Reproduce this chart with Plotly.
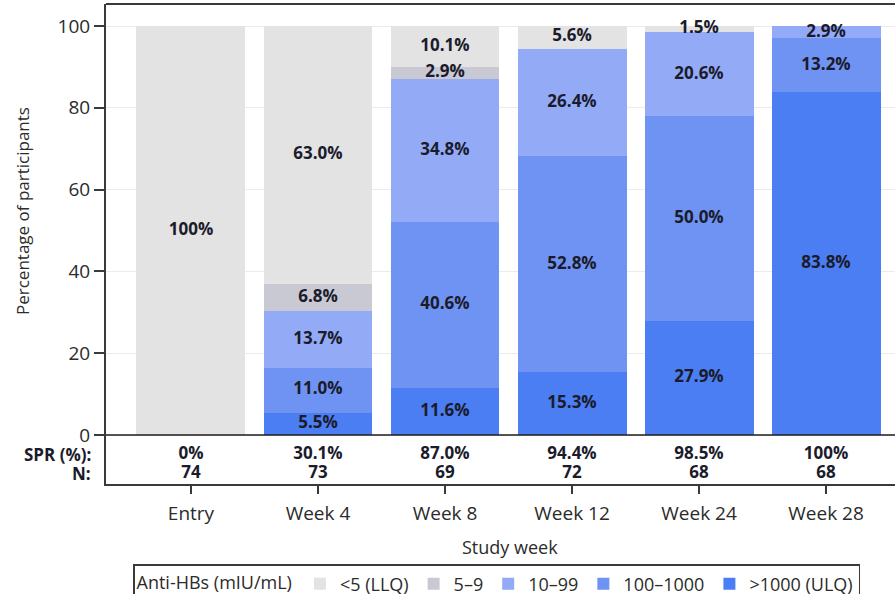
import plotly.graph_objects as go

# Study visits and antibody-level categories
weeks = ["Entry", "Week 4", "Week 8", "Week 12", "Week 24", "Week 28"]

# Percentage of participants in each anti-HBs category (bottom of stack first)
pct_ulq = [0, 5.5, 11.6, 15.3, 27.9, 83.8]        # >1000 (ULQ)
pct_100_1000 = [0, 11.0, 40.6, 52.8, 50.0, 13.2]  # 100-1000
pct_10_99 = [0, 13.7, 34.8, 26.4, 20.6, 2.9]      # 10-99
pct_5_9 = [0, 6.8, 2.9, 0, 0, 0]                  # 5-9
pct_llq = [100, 63.0, 10.1, 5.6, 1.5, 0]          # <5 (LLQ)

# Seroprotection rate and number of participants per visit
spr = [0, 30.1, 87.0, 94.4, 98.5, 100]
n_participants = [74, 73, 69, 72, 68, 68]

series = [
    (">1000 (ULQ)", pct_ulq, "#4b7ef3"),
    ("100–1000", pct_100_1000, "#6f93f2"),
    ("10–99", pct_10_99, "#93abf7"),
    ("5–9", pct_5_9, "#c9c9d3"),
    ("<5 (LLQ)", pct_llq, "#e3e3e3"),
]

FONT = "Open Sans"
TXT = "#2b2b2b"
LBL = "#1b1b2b"
LBL_SIZE = 17


def fmt_pct(v):
    return "100%" if v == 100 else ("0%" if v == 0 else f"{v:.1f}%")


fig = go.Figure()

base = [0.0] * len(weeks)
lab_x, lab_y, lab_t = [], [], []
for name, vals, color in series:
    fig.add_trace(go.Bar(
        x=weeks, y=vals, name=name, marker=dict(color=color, line=dict(width=0)),
        width=0.858, hoverinfo="skip",
    ))
    for i, v in enumerate(vals):
        if v > 0:
            lab_x.append(weeks[i])
            lab_y.append(base[i] + v / 2)
            lab_t.append(fmt_pct(v))
        base[i] += v

# Segment value labels
fig.add_trace(go.Scatter(
    x=lab_x, y=lab_y, text=lab_t, mode="text", showlegend=False,
    textfont=dict(family=FONT, size=LBL_SIZE, color=LBL, weight="bold"),
    hoverinfo="skip",
))

# Inset table rows: SPR and N
ROW_SPR, ROW_N = -4.8, -9.5
fig.add_trace(go.Scatter(
    x=weeks, y=[ROW_SPR] * len(weeks), text=[fmt_pct(v) for v in spr],
    mode="text", showlegend=False, hoverinfo="skip",
    textfont=dict(family=FONT, size=LBL_SIZE, color=LBL, weight="bold"),
))
fig.add_trace(go.Scatter(
    x=weeks, y=[ROW_N] * len(weeks), text=[str(v) for v in n_participants],
    mode="text", showlegend=False, hoverinfo="skip",
    textfont=dict(family=FONT, size=LBL_SIZE, color=LBL, weight="bold"),
))

W, H = 895, 594
ML, MR, MT, MB = 106, 0, 4, 110
pw, ph = W - ML - MR, H - MT - MB


def px_x(p):
    return (p - ML) / pw


def px_y(p):
    return (H - MB - p) / ph


annotations = [
    dict(text="<b>SPR (%):</b>", x=px_x(93), y=ROW_SPR, xref="paper", yref="y",
         xanchor="right", yanchor="middle", showarrow=False,
         font=dict(family=FONT, size=LBL_SIZE, color=LBL)),
    dict(text="<b>N:</b>", x=px_x(93), y=ROW_N, xref="paper", yref="y",
         xanchor="right", yanchor="middle", showarrow=False,
         font=dict(family=FONT, size=LBL_SIZE, color=LBL)),
    dict(text="Percentage of participants", x=px_x(22), y=px_y(211),
         xref="paper", yref="paper", textangle=-90, showarrow=False,
         xanchor="center", yanchor="middle",
         font=dict(family=FONT, size=17, color=TXT)),
    dict(text="Study week", x=px_x(510), y=px_y(547), xref="paper", yref="paper",
         showarrow=False, xanchor="center", yanchor="middle",
         font=dict(family=FONT, size=18, color=TXT)),
]

shapes = [
    # zero line separating bars from the table
    dict(type="line", xref="paper", yref="y", x0=0, x1=1, y0=0, y1=0,
         line=dict(color="#1e1e1e", width=1.6), layer="above"),
    # top frame edge
    dict(type="line", xref="paper", yref="paper", x0=0, x1=1, y0=1, y1=1,
         line=dict(color="#3a3a3a", width=2), layer="above"),
]

fig.update_layout(
    width=W, height=H,
    margin=dict(l=ML, r=MR, t=MT, b=MB, autoexpand=False),
    paper_bgcolor="white", plot_bgcolor="white",
    barmode="stack",
    font=dict(family=FONT, size=18, color=TXT),
    showlegend=True,
    legend=dict(
        orientation="h", x=px_x(133), xanchor="left", y=px_y(564), yanchor="top",
        traceorder="reversed", bordercolor="#3a3a3a", borderwidth=1.5,
        font=dict(family=FONT, size=18, color=TXT),
        title=dict(text="Anti-HBs (mIU/mL)", font=dict(family=FONT, size=18, color=TXT)),
        itemsizing="constant",
    ),
    annotations=annotations,
    shapes=shapes,
    xaxis=dict(
        type="category", range=[-0.669, 5.543], showgrid=False,
        showline=True, linecolor="#3a3a3a", linewidth=2,
        ticks="outside", ticklen=8, tickwidth=1.5, tickcolor="#3a3a3a",
        tickfont=dict(family=FONT, size=19, color=TXT), ticklabelstandoff=3,
        fixedrange=True, automargin=False,
    ),
    yaxis=dict(
        range=[-11.98, 105.38], tickvals=[0, 20, 40, 60, 80, 100],
        showgrid=True, gridcolor="#ebebeb", gridwidth=1, zeroline=False,
        showline=True, linecolor="#3a3a3a", linewidth=2,
        ticks="outside", ticklen=10, tickwidth=1.5, tickcolor="#3a3a3a",
        tickfont=dict(family=FONT, size=19, color=TXT),
        fixedrange=True, automargin=False,
    ),
)

fig.write_html("out.html")
